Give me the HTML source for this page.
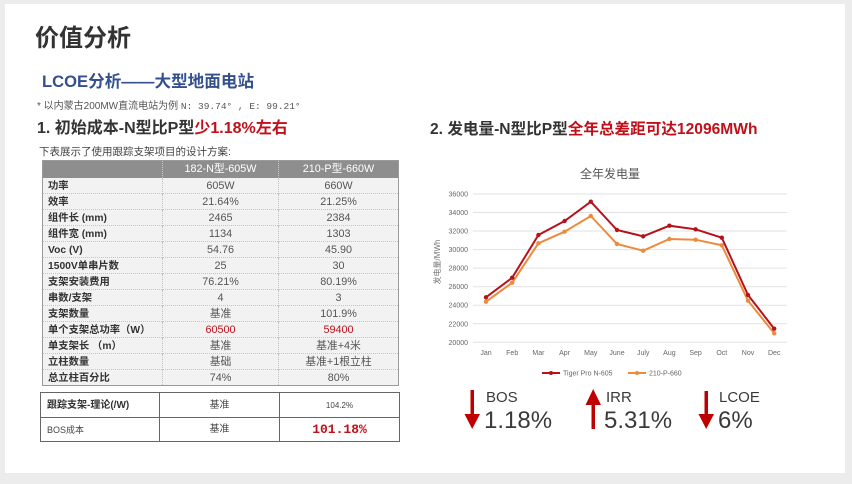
<!DOCTYPE html>
<html><head><meta charset="utf-8">
<style>
*{margin:0;padding:0;box-sizing:border-box}
html,body{width:852px;height:484px;overflow:hidden;background:#ececec;font-family:"Liberation Sans","Noto Sans CJK SC",sans-serif}
.card{position:absolute;left:5px;top:4px;width:840px;height:469px;background:#fff}
.abs{position:absolute;white-space:nowrap}
table{border-collapse:collapse;position:absolute;table-layout:fixed}
.t1{left:42px;top:160px;width:356px;background:#f2f2f2;border:1px solid #9a9a9a}
.t1 th{background:#8e8e8e;color:#fff;font-weight:normal;font-size:10.8px;height:17px;line-height:13px;padding-top:2px;border-left:1px dotted #c8c8c8;vertical-align:top}
.t1 th:first-child{border-left:none}
.t1 td{height:16px;line-height:13px;font-size:10.8px;color:#555;text-align:center;vertical-align:top;border-top:1px dotted #c4c4c4;border-left:1px dotted #c4c4c4;padding:2px 0 0 0;overflow:hidden;white-space:nowrap}
.t1 td:first-child{text-align:left;font-weight:bold;font-size:10.3px;color:#333;padding:2px 0 0 5px;border-left:none}
.t1 tr:nth-child(2) td{border-top:none}
.red{color:#c0101a!important}
.t2{left:40px;top:392px;width:359px;background:#fff;border:1px solid #666}
.t2 td{border:1px solid #666;height:24.5px;line-height:16px;font-size:10px;color:#444;text-align:center;vertical-align:middle;padding-top:2px}
.t2 td:first-child{text-align:left;padding-left:6px}
</style></head><body>
<div class="card"></div>
<div class="abs" style="left:35px;top:24px;font-size:24px;font-weight:bold;color:#333;line-height:30px">价值分析</div>
<div class="abs" style="left:42px;top:71px;font-size:16.6px;font-weight:bold;color:#34508f;line-height:22px">LCOE分析——大型地面电站</div>
<div class="abs" style="left:37px;top:101px;font-size:10px;color:#555;line-height:12px">* 以内蒙古200MW直流电站为例 <span style="font-family:'Liberation Mono',monospace;font-size:9.5px">N: 39.74° , E: 99.21°</span></div>
<div class="abs" style="left:37px;top:119px;font-size:16px;font-weight:bold;color:#333;line-height:20px">1. 初始成本-N型比P型<span style="color:#c0101a">少1.18%左右</span></div>
<div class="abs" style="left:39px;top:146px;font-size:10.5px;color:#444;line-height:12px">下表展示了使用跟踪支架项目的设计方案:</div>

<table class="t1">
<colgroup><col style="width:120px"><col style="width:116px"><col style="width:120px"></colgroup>
<tr><th></th><th>182-N型-605W</th><th>210-P型-660W</th></tr>
<tr><td>功率</td><td>605W</td><td>660W</td></tr>
<tr><td>效率</td><td>21.64%</td><td>21.25%</td></tr>
<tr><td>组件长 (mm)</td><td>2465</td><td>2384</td></tr>
<tr><td>组件宽 (mm)</td><td>1134</td><td>1303</td></tr>
<tr><td>Voc (V)</td><td>54.76</td><td>45.90</td></tr>
<tr><td>1500V单串片数</td><td>25</td><td>30</td></tr>
<tr><td>支架安装费用</td><td>76.21%</td><td>80.19%</td></tr>
<tr><td>串数/支架</td><td>4</td><td>3</td></tr>
<tr><td>支架数量</td><td>基准</td><td>101.9%</td></tr>
<tr><td>单个支架总功率（W）</td><td class="red">60500</td><td class="red">59400</td></tr>
<tr><td>单支架长 （m）</td><td>基准</td><td>基准+4米</td></tr>
<tr><td>立柱数量</td><td>基础</td><td>基准+1根立柱</td></tr>
<tr><td>总立柱百分比</td><td>74%</td><td>80%</td></tr>
</table>

<table class="t2">
<colgroup><col style="width:119px"><col style="width:120px"><col style="width:120px"></colgroup>
<tr><td style="font-weight:bold;color:#333">跟踪支架-理论(/W)</td><td>基准</td><td style="font-size:8px">104.2%</td></tr>
<tr><td style="font-size:9px">BOS成本</td><td>基准</td><td style="font-size:13px;font-weight:bold;color:#c0101a;font-family:'Liberation Mono','Noto Sans CJK SC',monospace">101.18%</td></tr>
</table>

<div class="abs" style="left:430px;top:120px;font-size:15.6px;font-weight:bold;color:#333;line-height:20px">2. 发电量-N型比P型<span style="color:#c0101a">全年总差距可达12096MWh</span></div>

<svg class="abs" style="left:0;top:0" width="852" height="484" viewBox="0 0 852 484">
<text x="610" y="178" font-size="12" fill="#555" text-anchor="middle" font-family="Liberation Sans,Noto Sans CJK SC,sans-serif">全年发电量</text>
<g stroke="#e2e2e2" stroke-width="1">
<line x1="473" x2="787" y1="194" y2="194"/>
<line x1="473" x2="787" y1="212.5" y2="212.5"/>
<line x1="473" x2="787" y1="231" y2="231"/>
<line x1="473" x2="787" y1="249.6" y2="249.6"/>
<line x1="473" x2="787" y1="268.1" y2="268.1"/>
<line x1="473" x2="787" y1="286.7" y2="286.7"/>
<line x1="473" x2="787" y1="305.2" y2="305.2"/>
<line x1="473" x2="787" y1="323.8" y2="323.8"/>
<line x1="473" x2="787" y1="342.3" y2="342.3"/>
</g>
<g font-size="7" fill="#666" text-anchor="end" font-family="Liberation Sans,sans-serif">
<text x="468" y="196.5">36000</text>
<text x="468" y="215">34000</text>
<text x="468" y="233.5">32000</text>
<text x="468" y="252">30000</text>
<text x="468" y="270.6">28000</text>
<text x="468" y="289.2">26000</text>
<text x="468" y="307.7">24000</text>
<text x="468" y="326.3">22000</text>
<text x="468" y="344.8">20000</text>
</g>
<text transform="translate(440,262) rotate(-90)" font-size="8" fill="#777" text-anchor="middle" font-family="Liberation Sans,Noto Sans CJK SC,sans-serif">发电量/MWh</text>
<g font-size="7" fill="#666" text-anchor="middle" font-family="Liberation Sans,sans-serif">
<text x="486" y="355">Jan</text><text x="512.2" y="355">Feb</text><text x="538.4" y="355">Mar</text>
<text x="564.6" y="355">Apr</text><text x="590.8" y="355">May</text><text x="617" y="355">June</text>
<text x="643.2" y="355">July</text><text x="669.4" y="355">Aug</text><text x="695.6" y="355">Sep</text>
<text x="721.8" y="355">Oct</text><text x="748" y="355">Nov</text><text x="774.2" y="355">Dec</text>
</g>
<polyline fill="none" stroke="#ee8a3c" stroke-width="2" points="486,301.7 512.2,282.7 538.4,243.3 564.6,231.7 590.8,216 617,244 643.2,250.7 669.4,239 695.6,239.7 721.8,245.3 748,300.7 774.2,333.3"/>
<g fill="#ee8a3c">
<circle cx="486" cy="301.7" r="2.2"/><circle cx="512.2" cy="282.7" r="2.2"/><circle cx="538.4" cy="243.3" r="2.2"/><circle cx="564.6" cy="231.7" r="2.2"/><circle cx="590.8" cy="216" r="2.2"/><circle cx="617" cy="244" r="2.2"/><circle cx="643.2" cy="250.7" r="2.2"/><circle cx="669.4" cy="239" r="2.2"/><circle cx="695.6" cy="239.7" r="2.2"/><circle cx="721.8" cy="245.3" r="2.2"/><circle cx="748" cy="300.7" r="2.2"/><circle cx="774.2" cy="333.3" r="2.2"/>
</g>
<polyline fill="none" stroke="#b5121b" stroke-width="2" points="486,297.3 512.2,277.7 538.4,235 564.6,221 590.8,201.7 617,230 643.2,236.3 669.4,225.7 695.6,229.3 721.8,237.7 748,295 774.2,328.7"/>
<g fill="#b5121b">
<circle cx="486" cy="297.3" r="2.2"/><circle cx="512.2" cy="277.7" r="2.2"/><circle cx="538.4" cy="235" r="2.2"/><circle cx="564.6" cy="221" r="2.2"/><circle cx="590.8" cy="201.7" r="2.2"/><circle cx="617" cy="230" r="2.2"/><circle cx="643.2" cy="236.3" r="2.2"/><circle cx="669.4" cy="225.7" r="2.2"/><circle cx="695.6" cy="229.3" r="2.2"/><circle cx="721.8" cy="237.7" r="2.2"/><circle cx="748" cy="295" r="2.2"/><circle cx="774.2" cy="328.7" r="2.2"/>
</g>
<line x1="542" x2="560" y1="373" y2="373" stroke="#b5121b" stroke-width="2"/>
<circle cx="551" cy="373" r="2" fill="#b5121b"/>
<text x="563" y="375.5" font-size="7" fill="#666" font-family="Liberation Sans,sans-serif">Tiger Pro N-605</text>
<line x1="628" x2="646" y1="373" y2="373" stroke="#ee8a3c" stroke-width="2"/>
<circle cx="637" cy="373" r="2" fill="#ee8a3c"/>
<text x="649" y="375.5" font-size="7" fill="#666" font-family="Liberation Sans,sans-serif">210-P-660</text>

<g fill="#c00000">
<polygon points="470.5,390 474,390 474,414 480,414 472.2,429 464.5,414 470.5,414"/>
<polygon points="591.5,429 595,429 595,405 601,405 593.2,389 585.5,405 591.5,405"/>
<polygon points="704.5,391 708,391 708,414 714,414 706.2,429 698.5,414 704.5,414"/>
</g>
<g fill="#3a3a3a" font-family="Liberation Sans,sans-serif">
<text x="486" y="402" font-size="15">BOS</text>
<text x="484" y="428" font-size="24">1.18%</text>
<text x="606" y="402" font-size="15">IRR</text>
<text x="604" y="428" font-size="24">5.31%</text>
<text x="719" y="402" font-size="15">LCOE</text>
<text x="718" y="428" font-size="24">6%</text>
</g>
</svg>
</body></html>
